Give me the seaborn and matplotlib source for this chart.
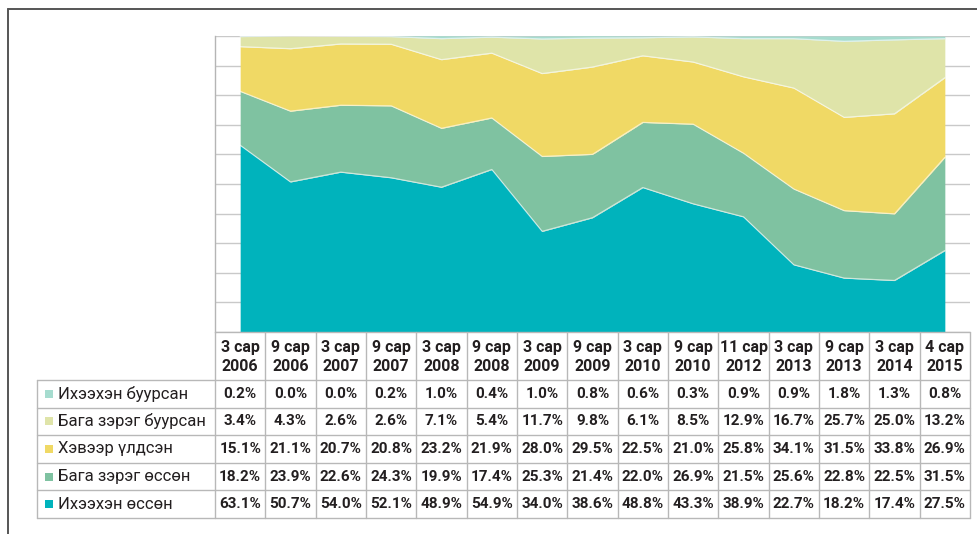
import matplotlib
matplotlib.use("Agg")
import matplotlib.pyplot as plt
import seaborn as sns
import numpy as np
import pandas as pd

sns.set_style("white")
plt.rcParams['font.family'] = ['Roboto', 'DejaVu Sans']

# Хугацаа (сар / он)
periods = ["3 сар\n2006", "9 сар\n2006", "3 сар\n2007", "9 сар\n2007", "3 сар\n2008",
           "9 сар\n2008", "3 сар\n2009", "9 сар\n2009", "3 сар\n2010", "9 сар\n2010",
           "11 сар\n2012", "3 сар\n2013", "9 сар\n2013", "3 сар\n2014", "4 сар\n2015"]

ih_buursan = [0.2, 0.0, 0.0, 0.2, 1.0, 0.4, 1.0, 0.8, 0.6, 0.3, 0.9, 0.9, 1.8, 1.3, 0.8]
baga_buursan = [3.4, 4.3, 2.6, 2.6, 7.1, 5.4, 11.7, 9.8, 6.1, 8.5, 12.9, 16.7, 25.7, 25.0, 13.2]
hevr = [15.1, 21.1, 20.7, 20.8, 23.2, 21.9, 28.0, 29.5, 22.5, 21.0, 25.8, 34.1, 31.5, 33.8, 26.9]
baga_ossen = [18.2, 23.9, 22.6, 24.3, 19.9, 17.4, 25.3, 21.4, 22.0, 26.9, 21.5, 25.6, 22.8, 22.5, 31.5]
ih_ossen = [63.1, 50.7, 54.0, 52.1, 48.9, 54.9, 34.0, 38.6, 48.8, 43.3, 38.9, 22.7, 18.2, 17.4, 27.5]

# хүснэгтийн мөрийн дараалал (дээрээс доош)
row_names = ["Ихээхэн буурсан", "Бага зэрэг буурсан", "Хэвээр үлдсэн", "Бага зэрэг өссөн", "Ихээхэн өссөн"]
row_colors = ["#a6dccf", "#dfe4a9", "#f0d965", "#7fc2a1", "#00b3bc"]

df = pd.DataFrame({
    "Ихээхэн өссөн": ih_ossen,
    "Бага зэрэг өссөн": baga_ossen,
    "Хэвээр үлдсэн": hevr,
    "Бага зэрэг буурсан": baga_buursan,
    "Ихээхэн буурсан": ih_buursan,
})
df["x"] = np.arange(len(periods))

W, H = 978, 534
fig = plt.figure(figsize=(W / 100, H / 100), dpi=100)


def px_axes(x0, y0, x1, y1):
    return fig.add_axes([x0 / W, 1 - y1 / H, (x1 - x0) / W, (y1 - y0) / H])


# гадна хүрээ (зөвхөн дээд, зүүн)
frame = px_axes(0, 0, W, H)
frame.set_xlim(0, W)
frame.set_ylim(H, 0)
frame.axis("off")
frame.plot([8, W], [9, 9], color="#555555", lw=1.4)
frame.plot([8, 8], [9, H], color="#555555", lw=1.4)

# талбайн график
ax = px_axes(215, 36, 970, 332)
stack_order = ["Ихээхэн өссөн", "Бага зэрэг өссөн", "Хэвээр үлдсэн", "Бага зэрэг буурсан", "Ихээхэн буурсан"]
stack_colors = ["#00b3bc", "#7fc2a1", "#f0d965", "#dfe4a9", "#a6dccf"]
for yv in range(0, 101, 10):
    ax.axhline(yv, color="#c9c9c9", lw=1.0, zorder=0)
ax.stackplot(df["x"], [df[c] for c in stack_order], colors=stack_colors, lw=0, zorder=2)

cum = df[stack_order].cumsum(axis=1)
for c in stack_order[:-1]:
    sns.lineplot(x=df["x"], y=cum[c], ax=ax, color="white", lw=0.9, alpha=0.6, zorder=3)

ax.set_xlim(-0.5, len(periods) - 0.5)
ax.set_ylim(0, 100)
ax.set_xticks([])
ax.set_yticks([])
ax.set_xlabel("")
ax.set_ylabel("")
for s in ["top", "right", "bottom"]:
    ax.spines[s].set_visible(False)
ax.spines["left"].set_color("#b5b5b5")
ax.spines["left"].set_linewidth(1.0)

# хүснэгт
tab = px_axes(0, 0, W, H)
tab.set_xlim(0, W)
tab.set_ylim(H, 0)
tab.axis("off")
tab.patch.set_alpha(0)

x_lab0, x_data0, x_end = 37, 215, 970
col_w = (x_end - x_data0) / len(periods)
y_head0, y_head1, y_end = 332, 380, 518
row_h = (y_end - y_head1) / len(row_names)
lc = "#b8b8b8"
txt = "#231f20"

# хэвтээ шугамууд
tab.plot([x_data0, x_end], [y_head0, y_head0], color=lc, lw=1.0)
for i in range(len(row_names) + 1):
    yy = y_head1 + i * row_h
    tab.plot([x_lab0, x_end], [yy, yy], color=lc, lw=1.0)
# босоо шугамууд
tab.plot([x_lab0, x_lab0], [y_head1, y_end], color=lc, lw=1.0)
for j in range(len(periods) + 1):
    xx = x_data0 + j * col_w
    tab.plot([xx, xx], [y_head0, y_end], color=lc, lw=1.0)

for j, p in enumerate(periods):
    tab.text(x_data0 + (j + 0.5) * col_w, (y_head0 + y_head1) / 2 + 1, p,
             ha="center", va="center", fontsize=11.5, fontweight="bold",
             color=txt, linespacing=1.35)

values = [ih_buursan, baga_buursan, hevr, baga_ossen, ih_ossen]
for i, (name, col, vals) in enumerate(zip(row_names, row_colors, values)):
    yc = y_head1 + (i + 0.5) * row_h
    tab.scatter([49], [yc], marker="s", s=40, color=col, linewidths=0)
    tab.text(58, yc, name, ha="left", va="center", fontsize=12, color=txt)
    for j, v in enumerate(vals):
        tab.text(x_data0 + (j + 0.5) * col_w, yc, f"{v:.1f}%", ha="center",
                 va="center", fontsize=11, fontweight="bold", color=txt)

fig.savefig("out.png", dpi=100)
